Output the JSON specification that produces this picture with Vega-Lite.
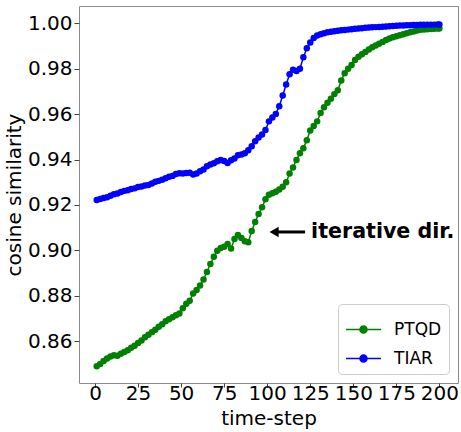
{
"$schema": "https://vega.github.io/schema/vega-lite/v6.json",
"width": 379, "height": 377,
"autosize": {"type": "none"},
"padding": {"left": 79, "top": 6, "right": 3, "bottom": 49},
"background": "white",
"config": {"view": {"stroke": "#8c8c8c", "strokeWidth": 1}, "font": "DejaVu Sans"},
"datasets": {
"series": [
{"t":1,"v":0.8490,"s":"PTQD"},{"t":3,"v":0.8500,"s":"PTQD"},{"t":5,"v":0.8513,"s":"PTQD"},{"t":7,"v":0.8524,"s":"PTQD"},{"t":9,"v":0.8533,"s":"PTQD"},{"t":11,"v":0.8538,"s":"PTQD"},{"t":13,"v":0.8536,"s":"PTQD"},{"t":15,"v":0.8545,"s":"PTQD"},{"t":17,"v":0.8552,"s":"PTQD"},{"t":19,"v":0.8560,"s":"PTQD"},
{"t":21,"v":0.8571,"s":"PTQD"},{"t":23,"v":0.8580,"s":"PTQD"},{"t":25,"v":0.8592,"s":"PTQD"},{"t":27,"v":0.8603,"s":"PTQD"},{"t":29,"v":0.8617,"s":"PTQD"},{"t":31,"v":0.8628,"s":"PTQD"},{"t":33,"v":0.8640,"s":"PTQD"},{"t":35,"v":0.8650,"s":"PTQD"},{"t":37,"v":0.8664,"s":"PTQD"},{"t":39,"v":0.8675,"s":"PTQD"},
{"t":41,"v":0.8688,"s":"PTQD"},{"t":43,"v":0.8697,"s":"PTQD"},{"t":45,"v":0.8706,"s":"PTQD"},{"t":47,"v":0.8714,"s":"PTQD"},{"t":49,"v":0.8722,"s":"PTQD"},{"t":51,"v":0.8745,"s":"PTQD"},{"t":53,"v":0.8765,"s":"PTQD"},{"t":55,"v":0.8778,"s":"PTQD"},{"t":57,"v":0.8810,"s":"PTQD"},{"t":59,"v":0.8825,"s":"PTQD"},
{"t":61,"v":0.8845,"s":"PTQD"},{"t":63,"v":0.8872,"s":"PTQD"},{"t":65,"v":0.8905,"s":"PTQD"},{"t":67,"v":0.8940,"s":"PTQD"},{"t":69,"v":0.8972,"s":"PTQD"},{"t":71,"v":0.8998,"s":"PTQD"},{"t":73,"v":0.9010,"s":"PTQD"},{"t":75,"v":0.9016,"s":"PTQD"},{"t":77,"v":0.9028,"s":"PTQD"},{"t":79,"v":0.9008,"s":"PTQD"},
{"t":81,"v":0.9050,"s":"PTQD"},{"t":83,"v":0.9068,"s":"PTQD"},{"t":85,"v":0.9055,"s":"PTQD"},{"t":87,"v":0.9040,"s":"PTQD"},{"t":89,"v":0.9036,"s":"PTQD"},{"t":91,"v":0.9085,"s":"PTQD"},{"t":93,"v":0.9125,"s":"PTQD"},{"t":95,"v":0.9160,"s":"PTQD"},{"t":97,"v":0.9190,"s":"PTQD"},{"t":99,"v":0.9225,"s":"PTQD"},
{"t":101,"v":0.9245,"s":"PTQD"},{"t":103,"v":0.9252,"s":"PTQD"},{"t":105,"v":0.9258,"s":"PTQD"},{"t":107,"v":0.9268,"s":"PTQD"},{"t":109,"v":0.9280,"s":"PTQD"},{"t":111,"v":0.9300,"s":"PTQD"},{"t":113,"v":0.9338,"s":"PTQD"},{"t":115,"v":0.9365,"s":"PTQD"},{"t":117,"v":0.9398,"s":"PTQD"},{"t":119,"v":0.9428,"s":"PTQD"},
{"t":121,"v":0.9450,"s":"PTQD"},{"t":123,"v":0.9485,"s":"PTQD"},{"t":125,"v":0.9528,"s":"PTQD"},{"t":127,"v":0.9548,"s":"PTQD"},{"t":129,"v":0.9568,"s":"PTQD"},{"t":131,"v":0.9605,"s":"PTQD"},{"t":133,"v":0.9630,"s":"PTQD"},{"t":135,"v":0.9650,"s":"PTQD"},{"t":137,"v":0.9668,"s":"PTQD"},{"t":139,"v":0.9688,"s":"PTQD"},
{"t":141,"v":0.9705,"s":"PTQD"},{"t":143,"v":0.9748,"s":"PTQD"},{"t":145,"v":0.9780,"s":"PTQD"},{"t":147,"v":0.9800,"s":"PTQD"},{"t":149,"v":0.9816,"s":"PTQD"},{"t":151,"v":0.9838,"s":"PTQD"},{"t":153,"v":0.9853,"s":"PTQD"},{"t":155,"v":0.9864,"s":"PTQD"},{"t":157,"v":0.9874,"s":"PTQD"},{"t":159,"v":0.9884,"s":"PTQD"},
{"t":161,"v":0.9894,"s":"PTQD"},{"t":163,"v":0.9902,"s":"PTQD"},{"t":165,"v":0.9910,"s":"PTQD"},{"t":167,"v":0.9918,"s":"PTQD"},{"t":169,"v":0.9926,"s":"PTQD"},{"t":171,"v":0.9933,"s":"PTQD"},{"t":173,"v":0.9938,"s":"PTQD"},{"t":175,"v":0.9943,"s":"PTQD"},{"t":177,"v":0.9947,"s":"PTQD"},{"t":179,"v":0.9952,"s":"PTQD"},
{"t":181,"v":0.9956,"s":"PTQD"},{"t":183,"v":0.9960,"s":"PTQD"},{"t":185,"v":0.9964,"s":"PTQD"},{"t":187,"v":0.9968,"s":"PTQD"},{"t":189,"v":0.9971,"s":"PTQD"},{"t":191,"v":0.9973,"s":"PTQD"},{"t":193,"v":0.9974,"s":"PTQD"},{"t":195,"v":0.9975,"s":"PTQD"},{"t":197,"v":0.9976,"s":"PTQD"},{"t":199,"v":0.9977,"s":"PTQD"},{"t":200,"v":0.9977,"s":"PTQD"},
{"t":1,"v":0.9222,"s":"TIAR"},{"t":3,"v":0.9226,"s":"TIAR"},{"t":5,"v":0.9231,"s":"TIAR"},{"t":7,"v":0.9234,"s":"TIAR"},{"t":9,"v":0.9241,"s":"TIAR"},{"t":11,"v":0.9247,"s":"TIAR"},{"t":13,"v":0.9250,"s":"TIAR"},{"t":15,"v":0.9257,"s":"TIAR"},{"t":17,"v":0.9262,"s":"TIAR"},{"t":19,"v":0.9265,"s":"TIAR"},
{"t":21,"v":0.9270,"s":"TIAR"},{"t":23,"v":0.9273,"s":"TIAR"},{"t":25,"v":0.9279,"s":"TIAR"},{"t":27,"v":0.9281,"s":"TIAR"},{"t":29,"v":0.9286,"s":"TIAR"},{"t":31,"v":0.9288,"s":"TIAR"},{"t":33,"v":0.9294,"s":"TIAR"},{"t":35,"v":0.9302,"s":"TIAR"},{"t":37,"v":0.9306,"s":"TIAR"},{"t":39,"v":0.9311,"s":"TIAR"},
{"t":41,"v":0.9318,"s":"TIAR"},{"t":43,"v":0.9324,"s":"TIAR"},{"t":45,"v":0.9328,"s":"TIAR"},{"t":47,"v":0.9336,"s":"TIAR"},{"t":49,"v":0.9340,"s":"TIAR"},{"t":51,"v":0.9338,"s":"TIAR"},{"t":53,"v":0.9341,"s":"TIAR"},{"t":55,"v":0.9342,"s":"TIAR"},{"t":57,"v":0.9334,"s":"TIAR"},{"t":59,"v":0.9338,"s":"TIAR"},
{"t":61,"v":0.9348,"s":"TIAR"},{"t":63,"v":0.9356,"s":"TIAR"},{"t":65,"v":0.9370,"s":"TIAR"},{"t":67,"v":0.9378,"s":"TIAR"},{"t":69,"v":0.9384,"s":"TIAR"},{"t":71,"v":0.9392,"s":"TIAR"},{"t":73,"v":0.9398,"s":"TIAR"},{"t":75,"v":0.9394,"s":"TIAR"},{"t":77,"v":0.9385,"s":"TIAR"},{"t":79,"v":0.9397,"s":"TIAR"},
{"t":81,"v":0.9405,"s":"TIAR"},{"t":83,"v":0.9419,"s":"TIAR"},{"t":85,"v":0.9422,"s":"TIAR"},{"t":87,"v":0.9428,"s":"TIAR"},{"t":89,"v":0.9441,"s":"TIAR"},{"t":91,"v":0.9458,"s":"TIAR"},{"t":93,"v":0.9480,"s":"TIAR"},{"t":95,"v":0.9497,"s":"TIAR"},{"t":97,"v":0.9510,"s":"TIAR"},{"t":99,"v":0.9530,"s":"TIAR"},
{"t":101,"v":0.9568,"s":"TIAR"},{"t":103,"v":0.9585,"s":"TIAR"},{"t":105,"v":0.9601,"s":"TIAR"},{"t":107,"v":0.9635,"s":"TIAR"},{"t":109,"v":0.9682,"s":"TIAR"},{"t":111,"v":0.9730,"s":"TIAR"},{"t":113,"v":0.9775,"s":"TIAR"},{"t":115,"v":0.9795,"s":"TIAR"},{"t":117,"v":0.9790,"s":"TIAR"},{"t":119,"v":0.9800,"s":"TIAR"},
{"t":121,"v":0.9850,"s":"TIAR"},{"t":123,"v":0.9890,"s":"TIAR"},{"t":125,"v":0.9915,"s":"TIAR"},{"t":127,"v":0.9935,"s":"TIAR"},{"t":129,"v":0.9946,"s":"TIAR"},{"t":131,"v":0.9952,"s":"TIAR"},{"t":133,"v":0.9956,"s":"TIAR"},{"t":135,"v":0.9960,"s":"TIAR"},{"t":137,"v":0.9963,"s":"TIAR"},{"t":139,"v":0.9965,"s":"TIAR"},
{"t":141,"v":0.9967,"s":"TIAR"},{"t":143,"v":0.9969,"s":"TIAR"},{"t":145,"v":0.9970,"s":"TIAR"},{"t":147,"v":0.9972,"s":"TIAR"},{"t":149,"v":0.9974,"s":"TIAR"},{"t":151,"v":0.9976,"s":"TIAR"},{"t":153,"v":0.9977,"s":"TIAR"},{"t":155,"v":0.9978,"s":"TIAR"},{"t":157,"v":0.9980,"s":"TIAR"},{"t":159,"v":0.9981,"s":"TIAR"},
{"t":161,"v":0.9982,"s":"TIAR"},{"t":163,"v":0.9983,"s":"TIAR"},{"t":165,"v":0.9984,"s":"TIAR"},{"t":167,"v":0.9985,"s":"TIAR"},{"t":169,"v":0.9986,"s":"TIAR"},{"t":171,"v":0.9987,"s":"TIAR"},{"t":173,"v":0.9988,"s":"TIAR"},{"t":175,"v":0.9989,"s":"TIAR"},{"t":177,"v":0.9990,"s":"TIAR"},{"t":179,"v":0.9990,"s":"TIAR"},
{"t":181,"v":0.9991,"s":"TIAR"},{"t":183,"v":0.9991,"s":"TIAR"},{"t":185,"v":0.9992,"s":"TIAR"},{"t":187,"v":0.9992,"s":"TIAR"},{"t":189,"v":0.9993,"s":"TIAR"},{"t":191,"v":0.9993,"s":"TIAR"},{"t":193,"v":0.9994,"s":"TIAR"},{"t":195,"v":0.9994,"s":"TIAR"},{"t":197,"v":0.9994,"s":"TIAR"},{"t":199,"v":0.9995,"s":"TIAR"},{"t":200,"v":0.9995,"s":"TIAR"}
],
"arrow": [{"t0": 104, "t1": 122, "v": 0.9081}],
"head": [{"t": 104, "v": 0.9081}],
"note": [{"t": 125.5, "v": 0.9081, "label": "iterative dir."}]
},
"layer": [
{
"data": {"name": "series"},
"mark": {"type": "line", "strokeWidth": 1.5},
"encoding": {
"x": {"field": "t", "type": "quantitative", "scale": {"domain": [-9.3, 210.8], "nice": false, "zero": false},
"axis": {"values": [0, 25, 50, 75, 100, 125, 150, 175, 200], "title": "time-step", "grid": false, "domain": false, "labelFontSize": 20, "titleFontSize": 20, "titleFontWeight": "normal", "labelColor": "#000", "titleColor": "#000", "tickColor": "#444", "tickSize": 4, "labelPadding": -4, "titlePadding": 5, "labelFlush": false}},
"y": {"field": "v", "type": "quantitative", "scale": {"domain": [0.8416, 1.0076], "nice": false, "zero": false},
"axis": {"values": [0.86, 0.88, 0.90, 0.92, 0.94, 0.96, 0.98, 1.00], "format": ".2f", "title": "cosine similarity", "grid": false, "domain": false, "labelFontSize": 20, "titleFontSize": 20, "titleFontWeight": "normal", "labelColor": "#000", "titleColor": "#000", "tickColor": "#444", "tickSize": 5, "labelPadding": 2, "titlePadding": 3, "labelFlush": false}},
"color": {"field": "s", "type": "nominal", "scale": {"domain": ["PTQD", "TIAR"], "range": ["#008000", "#0000ff"]},
"legend": {"title": null, "orient": "bottom-right", "offset": 9, "labelFontSize": 17, "labelColor": "#000", "symbolType": "M-1,0L1,0M0.2,0A0.2,0.2,0,1,1,-0.2,0A0.2,0.2,0,1,1,0.2,0Z", "symbolSize": 1225, "symbolStrokeWidth": 1.5, "strokeColor": "#cccccc", "fillColor": "white", "padding": 7, "cornerRadius": 4, "labelOffset": 12}}
}
},
{
"data": {"name": "series"},
"mark": {"type": "point", "filled": true, "size": 42, "opacity": 1},
"encoding": {
"x": {"field": "t", "type": "quantitative"},
"y": {"field": "v", "type": "quantitative"},
"color": {"field": "s", "type": "nominal"}
}
},
{
"data": {"name": "arrow"},
"mark": {"type": "rule", "strokeWidth": 3, "color": "#000"},
"encoding": {
"x": {"field": "t0", "type": "quantitative"},
"x2": {"field": "t1"},
"y": {"field": "v", "type": "quantitative"}
}
},
{
"data": {"name": "head"},
"mark": {"type": "point", "shape": "triangle-left", "filled": true, "size": 110, "color": "#000", "opacity": 1},
"encoding": {
"x": {"field": "t", "type": "quantitative"},
"y": {"field": "v", "type": "quantitative"}
}
},
{
"data": {"name": "note"},
"mark": {"type": "text", "align": "left", "baseline": "middle", "fontSize": 20.6, "fontWeight": "bold", "color": "#000", "font": "DejaVu Sans"},
"encoding": {
"x": {"field": "t", "type": "quantitative"},
"y": {"field": "v", "type": "quantitative"},
"text": {"field": "label"}
}
}
]
}
